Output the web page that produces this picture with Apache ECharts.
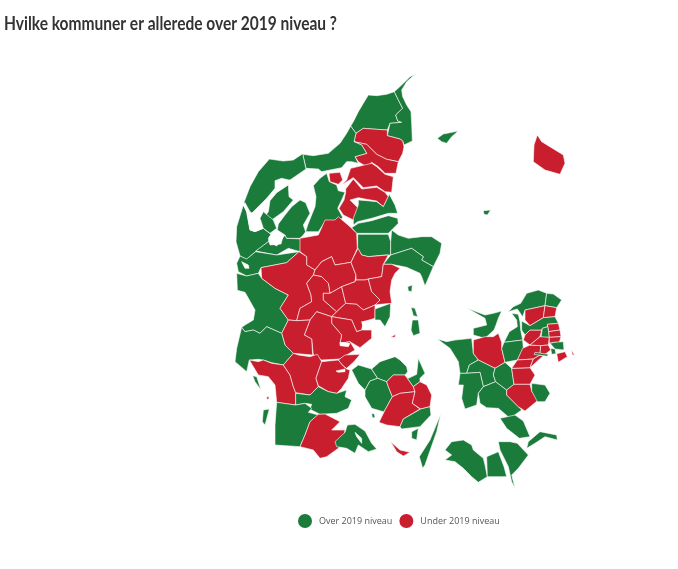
<!DOCTYPE html>
<html><head><meta charset="utf-8">
<style>html,body{margin:0;padding:0;background:#fff}#c{width:678px;height:569px}</style>
<script src="https://cdn.jsdelivr.net/npm/echarts@6/dist/echarts.min.js"></script>
</head><body><div id="c"></div>
<script>
const title = "Hvilke kommuner er allerede over 2019 niveau ?";
const legendLabels = ["Over 2019 niveau", "Under 2019 niveau"];
const overNames = ["Frederikshavn","Hjørring","Jammerbugt","Thisted","Thyholm","Morsø","Skive","Vesthimmerland","Mariagerfjord","Randers","Favrskov-nord","Norddjurs","Syddjurs","Lemvig","Struer","Holstebro","Ringkøbing-Skjern","Varde","Fanø","Tønder","Rømø","Haderslev","Sønderborg","Middelfart","Nordfyn","Assens","Kerteminde","Svendborg","Langeland","Tåsinge","Samsø","Læsø","Anholt","Odder","Odsherred","Kalundborg","Sorø","Slagelse","Ringsted","Næstved","Holbæk","Roskilde","Faxe","Stevns","Møn","Guldborgsund","Lolland","Falster","Halsnæs","Gribskov","Allerød","Furesø","Gentofte","Frederiksberg","Ishøj"];
const underNames = ["Brønderslev","Aalborg","Hvam","Rebild","Hobro","Viborg","Herning","Silkeborg","Favrskov","Ikast-Brande","Skanderborg","Aarhus","Aarhus-syd","Horsens","Hedensted","Vejle","Billund","Esbjerg","Vejen","Kolding","Fredericia","Aabenraa","Odense","Faaborg","Nyborg","Ærø","Bornholm","Holbæk-syd","Lejre","Køge","Vordingborg","Hillerød","Helsingør","Rudersdal","Ballerup","Greve","Solrød","Høje-Taastrup","Lyngby","Gladsaxe","Herlev","Dragør","Tårnby"];

// Crop origins the outlines were traced in (crop pixels are 3x the picture).
const A=[230,65], B=[225,205], Z=[230,345], S=[430,285], L=[235,170], E=[430,120];
// Kommune outlines in drawing order; water bodies have no value and stay white.
const outlines = [
["Hjørring",A,"362,183 370,170 385,140 400,115 415,90 440,92 470,88 493,80 505,105 518,130 497,150 503,168 515,172 480,175 472,195 440,193 400,190 378,205"],
["Frederikshavn",A,"563,25 550,32 530,50 515,75 518,95 530,120 543,140 545,175 547,228 522,240 518,228 510,222 472,212 480,175 515,172 503,168 497,150 518,130 505,105 493,80 515,60 540,35"],
["Brønderslev",A,"378,205 400,190 440,193 472,195 472,212 510,222 518,228 522,245 518,265 505,290 470,283 440,268 410,238 372,230"],
["Aalborg",A,"372,230 410,238 440,268 470,283 505,290 498,325 465,325 445,305 425,292 410,305 385,290 375,275 410,265 395,240"],
["Jammerbugt",A,"362,183 378,205 372,230 395,240 410,265 375,275 385,295 365,290 350,290 335,308 300,315 275,320 265,312 228,310 218,268 250,272 295,265 330,235 350,205"],
["Thisted",A,"218,266 228,312 180,345 135,370 110,400 80,430 60,450 42,412 60,365 85,320 118,282 160,288 190,285"],
["Lemvig",L,"25,105 5,170 3,215 15,258 35,268 65,242 100,215 110,195 85,175 60,185 45,180 35,125"],
["Struer",L,"100,215 125,228 150,195 155,205 203,207 195,245 160,235 125,255 62,243"],
["Limfjord",L,"120,32 140,25 175,33 215,15 255,5 290,12 255,30 238,55 245,90 232,110 240,130 218,165 212,185 205,165 225,130 212,98 195,90 170,110 150,135 130,162 127,180 145,195 138,222 105,225 100,205 110,190 85,175 60,185 45,180 35,125 25,105 30,98 45,125 75,145 85,125 80,105 105,85 120,62"],
["Morsø",L,"125,68 160,45 162,80 175,90 145,125 110,150 90,140 100,125 105,92"],
["Thyholm",L,"75,145 85,125 115,150 125,175 105,190 85,175"],
["Skive",L,"130,162 150,135 170,110 195,90 212,98 225,130 205,165 212,185 205,195 195,205 155,205 150,195 127,180"],
["Vesthimmerland",A,"250,362 270,340 290,325 298,350 320,360 325,377 345,382 335,405 323,430 338,457 328,470 285,470 265,500 227,500 233,480 255,425 258,395"],
["Hvam",A,"297,325 330,322 338,345 325,358 300,350"],
["Rebild",A,"362,310 425,295 440,305 465,328 490,335 485,382 465,380 440,363 400,368 370,338 335,360 350,345"],
["Hobro",A,"347,372 370,342 395,372 440,367 465,382 475,395 460,425 440,408 410,403 385,398 360,405 385,430 370,465 340,450 327,430 342,405 347,382"],
["Mariagerfjord",B,"400,-15 425,-13 455,-10 475,5 493,-32 510,0 518,25 490,25 440,40 398,50 385,60 385,40 400,0"],
["Randers",B,"380,68 400,55 440,47 490,32 518,40 520,55 500,75 490,85 395,85"],
["Favrskov-nord",B,"398,88 490,88 497,110 497,150 480,150 430,155 410,150 398,130"],
["Viborg",B,"225,100 280,90 300,45 330,45 340,35 375,65 395,85 397,130 378,172 330,180 320,155 290,170 270,195 245,180 245,155 225,140"],
["Norddjurs",B,"500,75 520,90 550,100 590,95 620,95 650,115 645,145 625,185 590,165 595,155 560,130 497,150 497,110"],
["Syddjurs",B,"497,150 560,130 595,155 590,165 625,185 612,215 600,243 590,215 585,205 545,187 500,178 475,178"],
["Syddjurs",B,"548,245 562,240 560,260 550,258"],
["Holstebro",B,"45,153 65,162 92,140 155,150 222,140 185,173 108,188 100,205 65,213 40,200 35,175"],
["Ringkøbing-Skjern",B,"35,205 65,213 100,205 110,220 150,250 190,270 165,310 190,345 170,385 125,365 105,385 85,375 60,380 50,367 60,360 85,345 90,315 60,262 37,256"],
["Herning",B,"108,188 185,173 222,140 245,155 245,180 270,195 265,210 245,235 258,270 260,290 225,310 215,347 190,345 165,310 190,270 150,250 110,220"],
["Silkeborg",B,"270,195 290,170 320,155 330,180 378,172 393,210 390,230 350,245 315,265 310,235 290,215 265,210"],
["Favrskov",B,"378,172 399,130 410,150 430,155 490,150 475,178 470,215 430,222 420,225 393,225 393,210"],
["Ikast-Brande",B,"245,235 265,210 290,215 310,235 315,265 295,265 295,285 335,320 320,335 275,320 255,345 215,347 225,310 260,290 258,270"],
["Skanderborg",B,"295,265 315,265 350,245 362,295 335,320 295,285"],
["Aarhus",B,"350,245 390,230 393,225 420,225 430,222 440,260 465,285 450,300 415,315 395,298 362,295"],
["Aarhus-syd",B,"470,215 475,178 500,178 525,190 510,205 500,225 495,260 500,295 465,298 450,300 465,285 440,260 430,222"],
["Horsens",B,"335,320 362,295 395,298 415,315 450,300 450,340 415,350 410,375 395,380 380,345 320,335"],
["Odder",B,"450,312 497,295 495,335 480,365 465,345 450,345"],
["Hedensted",B,"320,335 380,345 395,380 410,375 440,375 440,400 405,428 375,410 345,415 350,390 320,355"],
["Hedensted",B,"497,397 510,397 512,388"],
["Vejle",B,"255,345 275,320 320,335 320,355 350,390 345,415 375,410 390,435 345,462 290,465 265,450 260,402 238,390"],
["Billund",B,"215,347 255,345 238,390 260,402 263,450 205,445 180,420 170,385 190,345"],
["Samsø",B,"562,345 580,345 585,385 565,392 558,375"],
["Samsø",B,"558,307 570,310 578,335 565,332"],
["Varde",B,"50,367 60,380 85,375 105,385 125,365 170,385 180,420 205,445 175,480 140,473 115,465 100,463 73,465 65,500 30,470 35,430"],
["Esbjerg",Z,"58,45 85,50 100,45 125,55 160,60 180,90 190,125 197,143 197,180 140,172 135,120 115,95 85,90"],
["Esbjerg",Z,"110,155 117,155 116,163 111,163"],
["Vejen",Z,"160,60 190,25 205,30 240,35 262,28 275,50 258,100 265,125 240,150 197,143 190,125 180,90"],
["Kolding",Z,"275,50 325,45 340,63 350,72 360,75 355,100 335,130 320,145 295,140 265,122 258,100"],
["Fredericia",Z,"325,45 345,30 390,28 372,50 350,70 340,63"],
["Haderslev",Z,"197,145 240,150 265,125 295,140 320,145 350,135 345,155 365,165 355,190 320,205 270,208 240,193 245,178 225,175 197,180"],
["Tønder",Z,"140,172 197,180 225,175 245,190 235,202 265,210 240,230 225,270 210,305 135,300 135,240"],
["Aabenraa",Z,"265,208 285,207 330,230 305,255 345,255 340,285 325,310 290,335 270,340 250,315 210,305 225,270 240,230"],
["Sønderborg",Z,"315,290 345,262 352,240 375,238 405,258 425,295 440,312 415,320 385,300 375,325 350,310 320,305"],
["Rømø",Z,"100,195 118,192 105,240 97,230"],
["Fanø",Z,"68,92 80,95 93,135 75,110"],
["Middelfart",Z,"365,75 385,60 425,72 443,100 420,108 405,135 385,115"],
["Nordfyn",Z,"425,72 450,50 495,35 510,45 530,65 533,80 525,90 490,90 470,110 443,100"],
["Assens",Z,"405,135 420,108 443,100 470,110 475,125 487,155 465,195 460,200 425,190 405,155"],
["Assens",Z,"425,205 433,207 435,218 427,218"],
["Odense",Z,"470,110 490,90 525,90 550,125 555,140 510,145 487,155 475,125"],
["Faaborg",Z,"487,155 510,145 555,140 547,175 570,192 520,222 510,245 470,240 447,232 465,195"],
["Kerteminde",Z,"525,90 535,100 560,88 565,40 585,85 570,100 570,110 550,125"],
["Nyborg",Z,"550,125 570,110 590,120 605,150 600,185 572,192 547,175 555,140"],
["Svendborg",Z,"520,222 572,192 600,185 603,210 570,245 515,252 510,245"],
["Tåsinge",Z,"545,260 565,250 560,285 545,280"],
["Langeland",Z,"632,208 620,260 585,360 578,370 568,335 600,285"],
["Ærø",Z,"482,290 510,315 540,322 520,333 500,320"],
["Bornholm",E,"322,45 335,65 400,105 405,130 390,163 345,150 310,125 312,75"],
["Læsø",E,"22,55 40,42 85,33 65,50 50,70 35,65"],
["Anholt",E,"160,272 182,270 172,285 162,283"],
["Odsherred",S,"112,70 165,90 190,85 215,78 205,100 198,120 192,135 165,160 130,150 130,130 170,120 165,100"],
["Kalundborg",S,"22,162 50,170 75,165 125,160 130,205 145,225 118,240 110,265 90,265 85,230 60,190"],
["Holbæk-syd",S,"130,165 165,155 190,155 205,145 215,172 215,190 225,232 195,250 145,225 130,205"],
["Holbæk",S,"245,85 265,88 270,110 272,135 278,165 222,172 238,140 262,125 260,105"],
["Sorø",S,"118,240 145,225 195,250 190,270 197,290 160,305 150,262 110,265"],
["Slagelse",S,"90,265 110,265 150,262 160,305 145,325 140,360 105,372 95,340 100,300 85,300"],
["Næstved",S,"145,325 160,305 197,290 230,315 230,330 275,375 240,400 205,370 170,368 150,355"],
["Ringsted",S,"195,250 225,232 245,250 252,298 230,315 197,290 190,270"],
["Roskilde",S,"222,172 278,165 280,190 262,225 225,232 215,190"],
["Køge",S,"245,250 300,248 315,270 300,298 252,298"],
["Vordingborg",S,"252,298 300,298 305,318 325,345 285,378 265,365 230,330 230,315"],
["Faxe",S,"305,295 345,300 360,325 345,350 322,350 305,318"],
["Ballerup",S,"280,165 285,150 300,135 335,135 330,155 300,180"],
["Lejre",S,"278,190 300,180 332,182 330,210 310,222 262,225"],
["Greve",S,"262,225 310,222 300,248 245,250"],
["Solrød",S,"310,222 330,210 340,212 300,248"],
["Møn",S,"210,400 255,390 280,408 300,455 268,460 230,430"],
["Stevns",S,"330,440 380,450 382,465 345,455 315,475 290,490 295,470"],
["Lolland",S,"45,495 65,470 100,465 125,480 130,495 160,520 165,540 172,575 145,592 125,575 100,550 75,530 45,525 65,510"],
["Falster",S,"170,515 205,500 222,545 230,575 172,575"],
["Guldborgsund",S,"205,470 240,470 262,475 295,510 265,550 245,570 255,610 245,590 235,545 210,495"],
["Halsnæs",S,"235,80 250,65 272,55 290,25 325,15 350,25 345,62 285,75 278,95 262,72"],
["Gribskov",S,"350,25 370,27 395,45 380,68 345,62"],
["Hillerød",S,"285,75 345,62 340,98 300,122 285,105"],
["Helsingør",S,"345,62 380,68 375,95 340,98"],
["Allerød",S,"275,108 300,122 340,98 375,95 385,115 352,118 353,125 337,130 335,135 300,135 285,150 275,135"],
["Rudersdal",S,"352,118 385,115 390,135 356,140"],
["Furesø",S,"337,130 353,125 356,140 358,157 333,157"],
["Høje-Taastrup",S,"330,155 358,157 355,180 332,182 300,180"],
["Lyngby",S,"356,140 390,135 393,155 358,157"],
["Gladsaxe",S,"358,157 393,155 388,172 372,172 358,175"],
["Gentofte",S,"360,175 372,172 400,170 402,195 375,192"],
["Herlev",S,"332,182 355,180 362,195 340,212 330,210"],
["Frederiksberg",S,"362,190 375,192 378,206 365,208"],
["Ishøj",S,"315,202 355,208 352,214 312,208"],
["Dragør",S,"380,206 405,200 412,215 385,232"],
["Tårnby",S,"425,195 433,210 427,210"],
["Horsens Fjord",B,"410,350 430,348 465,352 450,365 430,362 415,372"],
["Vejle Fjord",B,"345,412 375,415 370,425 345,422"],
["Kolding Fjord",Z,"318,78 345,72 345,80 325,82"],
["Als Fjord",Z,"375,262 395,280 395,295 380,275"],
["Nissum Fjord",B,"50,170 70,180 72,190 60,190"]
];
const ring = (c, s) => s.split(" ").map(p => { const [x, y] = p.split(",").map(Number); return [c[0] + x / 3, -(c[1] + y / 3)]; });
const byName = new Map();
outlines.forEach(([name, c, s]) => { if (!byName.has(name)) byName.set(name, []); byName.get(name).push([ring(c, s)]); });
const features = [...byName].map(([name, coordinates]) => ({ type: "Feature", properties: { name }, geometry: { type: "MultiPolygon", coordinates } }));
echarts.registerMap("dk", { type: "FeatureCollection", features });
const chart = echarts.init(document.getElementById("c"), null, { renderer: "canvas" });
const values = overNames.map(name => ({ name, value: 1 })).concat(underNames.map(name => ({ name, value: 0 })));
chart.setOption({
  animation: false,
  backgroundColor: "#fff",
  graphic: [{ type: "text", x: 4, y: 15, scaleX: 0.862, style: { text: title, font: "bold 18px Lato", fill: "#333" } }],
  visualMap: {
    type: "piecewise", orient: "horizontal", inverse: true, left: 298, top: 514, itemWidth: 14, itemHeight: 14, itemSymbol: "circle", itemGap: 7, selectedMode: false, padding: 0,
    textGap: 7, textStyle: { fontFamily: "Open Sans", fontSize: 9, color: "#555" },
    pieces: [{ value: 0, label: legendLabels[1], color: "#c81e2d" }, { value: 1, label: legendLabels[0], color: "#1b7b3b" }]
  },
  series: [{
    type: "map", map: "dk", aspectScale: 1, boundingCoords: [[0, 0], [678, -569]], left: 0, top: 0, width: 678, height: 569, roam: false, silent: true,
    label: { show: false }, emphasis: { disabled: true }, select: { disabled: true },
    itemStyle: { borderColor: "#fff", borderWidth: 0.6, areaColor: "#fff" }, data: values
  }]
});
</script></body></html>
